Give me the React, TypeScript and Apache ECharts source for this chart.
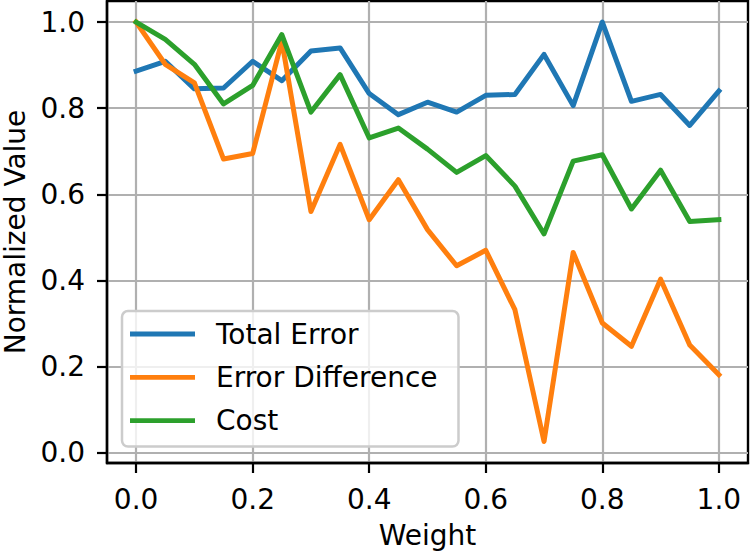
import React, { useEffect, useRef } from "react";
import * as echarts from "echarts";

const weights = [0, 0.05, 0.1, 0.15, 0.2, 0.25, 0.3, 0.35, 0.4, 0.45, 0.5, 0.55, 0.6, 0.65, 0.7, 0.75, 0.8, 0.85, 0.9, 0.95, 1.0];
const totalError = [0.886, 0.909, 0.845, 0.847, 0.909, 0.864, 0.933, 0.940, 0.834, 0.785, 0.814, 0.791, 0.830, 0.832, 0.925, 0.806, 1.0, 0.816, 0.832, 0.760, 0.840];
const errorDifference = [1.0, 0.902, 0.859, 0.682, 0.695, 0.956, 0.560, 0.716, 0.541, 0.634, 0.518, 0.434, 0.470, 0.332, 0.026, 0.465, 0.301, 0.247, 0.403, 0.250, 0.181];
const cost = [1.0, 0.960, 0.902, 0.810, 0.853, 0.971, 0.791, 0.878, 0.731, 0.754, 0.705, 0.651, 0.690, 0.619, 0.508, 0.677, 0.692, 0.566, 0.656, 0.537, 0.541];
const xTicks = [0, 0.2, 0.4, 0.6, 0.8, 1.0];
const yTicks = [0, 0.2, 0.4, 0.6, 0.8, 1.0];

const FONT = "DejaVu Sans";
const FS = 28;

export default function App() {
  const ref = useRef<HTMLDivElement>(null);
  useEffect(() => {
    if (!ref.current) return;
    const chart = echarts.init(ref.current, null, { renderer: "svg" });
    const mk = (name: string, vals: number[], color: string) => ({
      name,
      type: "line",
      data: weights.map((w, i) => [w, vals[i]]),
      showSymbol: false,
      symbol: "none",
      lineStyle: { color, width: 5, cap: "square", join: "round" },
      itemStyle: { color },
      z: 3,
    });
    chart.setOption({
      animation: false,
      backgroundColor: "#ffffff",
      textStyle: { fontFamily: FONT },
      grid: {
        left: 107,
        right: 2,
        top: 1,
        bottom: 90,
        containLabel: false,
        outerBoundsMode: "none",
        show: true,
        borderColor: "#000",
        borderWidth: 2.4,
        backgroundColor: "transparent",
      },
      xAxis: {
        type: "value",
        min: -0.05,
        max: 1.05,
        name: "Weight",
        nameLocation: "middle",
        nameGap: 58,
        nameTextStyle: { fontSize: FS, color: "#000", fontFamily: FONT, lineHeight: 28 },
        axisLine: { show: true, onZero: false, lineStyle: { color: "#000", width: 2.4 } },
        axisTick: { show: true, inside: false, length: 10, lineStyle: { color: "#000", width: 2.2 }, customValues: xTicks },
        axisLabel: { fontSize: FS, color: "#000", fontFamily: FONT, margin: 22, customValues: xTicks, formatter: (v: number) => v.toFixed(1) },
        splitLine: { show: true, lineStyle: { color: "#b0b0b0", width: 2.2 } },
      },
      yAxis: {
        type: "value",
        min: -0.024,
        max: 1.049,
        name: "Normalized Value",
        nameLocation: "middle",
        nameRotate: 90,
        nameGap: 78,
        nameTextStyle: { fontSize: FS, color: "#000", fontFamily: FONT },
        axisLine: { show: true, onZero: false, lineStyle: { color: "#000", width: 2.4 } },
        axisTick: { show: true, inside: false, length: 10, lineStyle: { color: "#000", width: 2.2 }, customValues: yTicks },
        axisLabel: { fontSize: FS, color: "#000", fontFamily: FONT, margin: 22, customValues: yTicks, formatter: (v: number) => v.toFixed(1) },
        splitLine: { show: true, lineStyle: { color: "#b0b0b0", width: 2.2 } },
      },
      legend: {
        orient: "vertical",
        left: 122,
        top: 311,
        icon: "rect",
        itemWidth: 65,
        itemHeight: 4.8,
        itemGap: 13.3,
        padding: [8, 21, 11, 8],
        backgroundColor: "rgba(255,255,255,0.8)",
        borderColor: "#cccccc",
        borderWidth: 2.5,
        borderRadius: 6,
        textStyle: { fontSize: FS, color: "#000", fontFamily: FONT, lineHeight: 30, padding: [0, 0, 0, 16] },
        data: ["Total Error", "Error Difference", "Cost"],
        z: 10,
      },
      series: [
        mk("Total Error", totalError, "#1f77b4"),
        mk("Error Difference", errorDifference, "#ff7f0e"),
        mk("Cost", cost, "#2ca02c"),
      ],
    });
    return () => chart.dispose();
  }, []);
  return <div ref={ref} style={{ position: "fixed", left: 0, top: 0, width: 750, height: 553 }} />;
}
